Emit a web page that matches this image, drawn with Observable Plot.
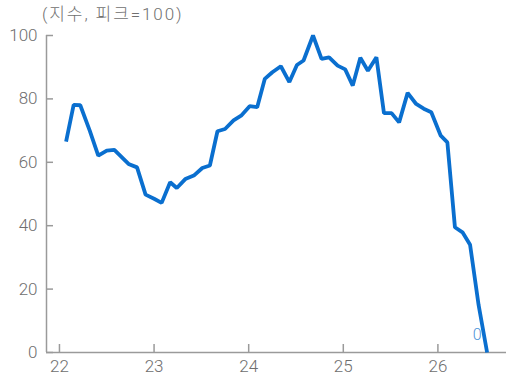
<!DOCTYPE html>
<html>
<head>
<meta charset="utf-8">
<script src="https://cdn.jsdelivr.net/npm/d3@7"></script>
<script src="https://cdn.jsdelivr.net/npm/@observablehq/plot@0.6"></script>
<style>
  body { margin: 0; background: #fff; }
  #title { position: relative; z-index: 1; height: 10px; overflow: visible; padding-left: 42px; font: 300 17px Roboto, "Noto Sans CJK KR", sans-serif; color: #707070; line-height: 29px; letter-spacing: 1.9px; white-space: nowrap; }
  #chart svg { background: transparent; }
</style>
</head>
<body>
<div id="title">(지수, 피크=100)</div>
<div id="chart"></div>
<script>
// Index, peak = 100 (decimal year → index value)
const years = [22.07, 22.15, 22.22, 22.32, 22.41, 22.50, 22.58, 22.73, 22.82, 22.91, 23.00, 23.08,
  23.17, 23.24, 23.33, 23.42, 23.51, 23.59, 23.67, 23.75, 23.84, 23.92, 24.01, 24.09,
  24.17, 24.25, 24.34, 24.43, 24.51, 24.58, 24.68, 24.77, 24.85, 24.94, 25.02, 25.10,
  25.18, 25.26, 25.35, 25.43, 25.51, 25.59, 25.68, 25.77, 25.85, 25.93, 26.03, 26.10,
  26.18, 26.26, 26.34, 26.43, 26.52];
const values = [66.5, 78.1, 78.0, 70.0, 62.1, 63.7, 63.9, 59.5, 58.4, 49.8, 48.5, 47.2,
  53.7, 51.9, 54.7, 55.8, 58.2, 59.0, 69.8, 70.5, 73.2, 74.7, 77.7, 77.4,
  86.3, 88.4, 90.3, 85.3, 90.7, 92.1, 100, 92.6, 93.1, 90.5, 89.3, 84.2,
  93.0, 88.9, 93.1, 75.5, 75.5, 72.6, 81.9, 78.4, 76.9, 75.8, 68.4, 66.3,
  39.5, 37.9, 34.0, 15.0, 0];
const xTicks = [22, 23, 24, 25, 26];
const yTicks = [0, 20, 40, 60, 80, 100];

const data = years.map((x, i) => ({x, y: values[i]}));
const last = data[data.length - 1];
const xMin = 21.863, xMax = 26.725;
const gray = "#9a9a9a";
const labelColor = "#6e6e6e";
const font = "Roboto, sans-serif";

// inward tick lengths, expressed in data units (frame is 460 × 317 px)
const xPerPx = (xMax - xMin) / 460;
const yPerPx = 100 / 317;

const chart = Plot.plot({
  width: 506,
  height: 370,
  marginTop: 25,
  marginBottom: 28,
  marginLeft: 46,
  marginRight: 0,
  style: {fontFamily: font, fontSize: "17px", color: labelColor, background: "transparent"},
  x: {domain: [xMin, xMax]},
  y: {domain: [0, 100]},
  marks: [
    Plot.axisY(yTicks, {tickSize: 0, tickPadding: 9, fill: labelColor, fontSize: 17, fontWeight: 300, label: null}),
    Plot.axisX(xTicks, {tickSize: 0, tickPadding: 7, fill: labelColor, fontSize: 17, fontWeight: 300, label: null, tickFormat: d => String(d)}),
    Plot.ruleY(yTicks, {y: d => d, x1: xMin, x2: xMin + 7 * xPerPx, stroke: gray, strokeWidth: 1.5}),
    Plot.ruleX(xTicks, {x: d => d, y1: 0, y2: 8 * yPerPx, stroke: gray, strokeWidth: 1.5}),
    Plot.ruleY([0], {x1: xMin, x2: xMax, stroke: gray, strokeWidth: 1.5}),
    Plot.ruleX([xMin], {y1: 0, y2: 100, stroke: gray, strokeWidth: 1.5}),
    Plot.line(data, {x: "x", y: "y", stroke: "#0a6fcf", strokeWidth: 3.8, strokeLinejoin: "miter", strokeLinecap: "butt"}),
    Plot.text([last], {x: "x", y: "y", text: d => String(d.y), fill: "#4a92d8", fontSize: 16, fontWeight: 300, dx: -10, dy: -18})
  ]
});
document.getElementById("chart").append(chart);
</script>
</body>
</html>
